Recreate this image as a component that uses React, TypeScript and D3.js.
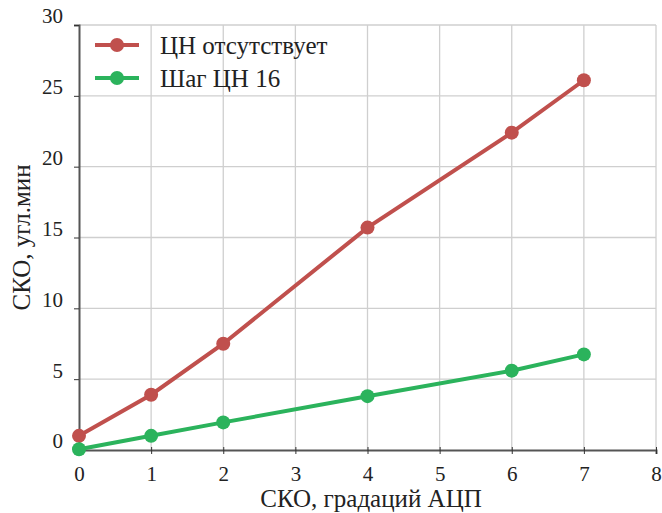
import React, { useRef, useEffect } from 'react';
import * as d3 from 'd3';

const xValues = [0, 1, 2, 4, 6, 7];
const seriesNames = ['ЦН отсутствует', 'Шаг ЦН 16'];
const redValues = [1.0, 3.9, 7.5, 15.7, 22.4, 26.1];
const greenValues = [0.05, 1.0, 1.95, 3.8, 5.6, 6.75];
const colors = ['#c0504d', '#2bb35c'];
const xTicks = [0, 1, 2, 3, 4, 5, 6, 7, 8];
const yTicks = [0, 5, 10, 15, 20, 25, 30];

const App = () => {
  const svgRef = useRef(null);

  useEffect(() => {
    const svg = d3.select(svgRef.current);
    svg.selectAll('*').remove();

    const margin = { top: 25, right: 6, bottom: 63, left: 79 };
    const width = 662;
    const height = 513;
    const font = '"Liberation Serif", "Times New Roman", serif';

    const x = d3.scaleLinear().domain([0, 8]).range([margin.left, width - margin.right]);
    const y = d3.scaleLinear().domain([0, 30]).range([height - margin.bottom, margin.top]);

    // Gridlines
    svg.append('g')
      .selectAll('line.vx')
      .data(xTicks.filter(d => d > 0))
      .enter().append('line')
      .attr('x1', d => x(d)).attr('x2', d => x(d))
      .attr('y1', y(30)).attr('y2', y(0))
      .attr('stroke', '#cfcfcf').attr('stroke-width', 1.3);
    svg.append('g')
      .selectAll('line.hy')
      .data(yTicks.filter(d => d > 0))
      .enter().append('line')
      .attr('x1', x(0)).attr('x2', x(8))
      .attr('y1', d => y(d)).attr('y2', d => y(d))
      .attr('stroke', '#cfcfcf').attr('stroke-width', 1.3);

    // Axes
    const xAxis = svg.append('g')
      .attr('transform', `translate(0,${y(0)})`)
      .call(d3.axisBottom(x).tickValues(xTicks).tickSize(4).tickFormat(d3.format('d')));
    xAxis.select('.domain').attr('stroke', '#555').attr('stroke-width', 2);
    xAxis.selectAll('.tick line').attr('stroke', '#333').attr('y1', -3);
    xAxis.selectAll('.tick text')
      .attr('y', 16)
      .style('font-family', font).style('font-size', '21px').attr('fill', '#222');

    const yAxis = svg.append('g')
      .attr('transform', `translate(${x(0)},0)`)
      .call(d3.axisLeft(y).tickValues(yTicks).tickSize(5).tickFormat(d3.format('d')));
    yAxis.select('.domain').attr('stroke', '#555').attr('stroke-width', 2);
    yAxis.selectAll('.tick line').attr('stroke', '#333');
    yAxis.selectAll('.tick text')
      .attr('x', -16).attr('dy', '-0.1em')
      .style('font-family', font).style('font-size', '21px').attr('fill', '#222');

    // Series
    const series = [redValues, greenValues];
    const line = d3.line<number>().x((_, i) => x(xValues[i])).y(d => y(d));
    series.forEach((vals, si) => {
      svg.append('path')
        .datum(vals)
        .attr('d', line)
        .attr('fill', 'none')
        .attr('stroke', colors[si])
        .attr('stroke-width', 4);
      svg.append('g')
        .selectAll('circle')
        .data(vals)
        .enter().append('circle')
        .attr('cx', (_, i) => x(xValues[i]))
        .attr('cy', d => y(d))
        .attr('r', 7)
        .attr('fill', colors[si]);
    });

    // Legend
    seriesNames.forEach((name, i) => {
      const ly = 45 + i * 33;
      const g = svg.append('g');
      g.append('line')
        .attr('x1', 95).attr('x2', 139)
        .attr('y1', ly).attr('y2', ly)
        .attr('stroke', colors[i]).attr('stroke-width', 4);
      g.append('circle').attr('cx', 117).attr('cy', ly).attr('r', 7).attr('fill', colors[i]);
      g.append('text')
        .attr('x', 160).attr('y', ly + 9)
        .style('font-family', font).style('font-size', '25px').attr('fill', '#222')
        .text(name);
    });

    // Axis titles
    svg.append('text')
      .attr('x', 371).attr('y', 507)
      .attr('text-anchor', 'middle')
      .style('font-family', font).style('font-size', '25px').attr('fill', '#222')
      .text('СКО, градаций АЦП');
    svg.append('text')
      .attr('transform', `translate(30,${(y(0) + y(30)) / 2}) rotate(-90)`)
      .attr('text-anchor', 'middle')
      .style('font-family', font).style('font-size', '25px').attr('fill', '#222')
      .text('СКО, угл.мин');
  }, []);

  return (
    <svg ref={svgRef} width={662} height={513}
      style={{ position: 'absolute', left: 0, top: 0, background: '#fff' }} />
  );
};

export default App;
